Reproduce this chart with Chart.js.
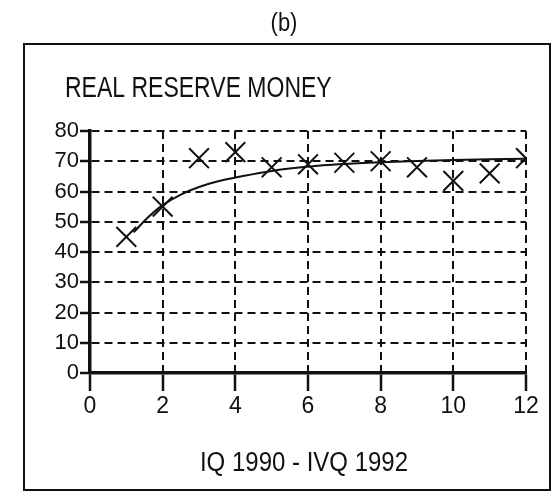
<!DOCTYPE html>
<html>
<head>
<meta charset="utf-8">
<script src="https://cdn.jsdelivr.net/npm/chart.js@4.4.1/dist/chart.umd.min.js"></script>
<style>
  html, body { margin: 0; padding: 0; background: #fff; }
  #wrap { width: 554px; height: 500px; }
</style>
</head>
<body>
<div id="wrap"><canvas id="reserveChart" width="554" height="500"></canvas></div>
<script>
// quarters IQ 1990 .. IVQ 1992
const quarters = [1, 2, 3, 4, 5, 6, 7, 8, 9, 10, 11, 12];
const reserveMoney = [45, 55, 71, 73, 68, 69, 69.5, 70, 68, 63.5, 66, 71];
// fitted curve
const fitX = [1.2, 1.6, 2, 2.5, 3, 3.5, 4, 5, 6, 7, 8, 10, 12];
const fitY = [46.5, 51.5, 55.5, 59, 61.5, 63.3, 64.6, 66.8, 68.2, 69.1, 69.7, 70.4, 70.8];
const xTicks = [0, 2, 4, 6, 8, 10, 12];
const yTicks = [0, 10, 20, 30, 40, 50, 60, 70, 80];

// draws a label a bit taller than the font, like the scanned original
function tallText(c, text, x, y, stretch) {
  c.save();
  c.translate(x, y);
  c.scale(1, stretch);
  c.fillText(text, 0, 0);
  c.restore();
}

const frame = {
  id: "frame",
  beforeDraw(chart) {
    const c = chart.ctx;
    c.save();
    c.fillStyle = "#fff";
    c.fillRect(0, 0, chart.width, chart.height);
    c.strokeStyle = "#111";
    c.lineWidth = 2;
    c.strokeRect(24, 44, 526, 446);
    c.fillStyle = "#111";
    c.textBaseline = "middle";
    c.textAlign = "center";
    c.font = "22px 'Liberation Sans', Arial, sans-serif";
    tallText(c, "(b)", 284, 24, 1.15);
    c.textAlign = "left";
    c.font = "23px 'Liberation Sans', Arial, sans-serif";
    tallText(c, "REAL RESERVE MONEY", 65, 89, 1.25);
    c.textAlign = "center";
    c.font = "24px 'Liberation Sans', Arial, sans-serif";
    tallText(c, "IQ 1990 - IVQ 1992", 304, 463, 1.15);
    c.restore();
  },
};

let ctx = document.getElementById("reserveChart").getContext("2d");
new Chart(ctx, {
  type: "scatter",
  data: {
    datasets: [
      {
        label: "Real reserve money",
        data: quarters.map((q, i) => ({ x: q, y: reserveMoney[i] })),
        pointStyle: "crossRot",
        radius: 14,
        hoverRadius: 14,
        borderColor: "#111",
        borderWidth: 2,
        showLine: false,
      },
      {
        label: "Fit",
        data: fitX.map((x, i) => ({ x: x, y: fitY[i] })),
        showLine: true,
        tension: 0.4,
        borderColor: "#111",
        borderWidth: 2,
        pointRadius: 0,
        fill: false,
      },
    ],
  },
  options: {
    responsive: false,
    animation: false,
    events: [],
    layout: { padding: { top: 131, right: 28, left: 0, bottom: 0 } },
    plugins: {
      legend: { display: false },
      tooltip: { enabled: false },
    },
    scales: {
      x: {
        type: "linear",
        min: 0,
        max: 12,
        afterBuildTicks: (scale) => {
          scale.ticks = xTicks.map((v) => ({ value: v }));
        },
        afterFit: (scale) => {
          scale.height = 127;
        },
        ticks: {
          color: "#111",
          font: { family: "'Liberation Sans', Arial, sans-serif", size: 23 },
          padding: 2,
          maxRotation: 0,
        },
        grid: {
          color: "#111",
          lineWidth: 2,
          tickLength: 18,
          tickColor: "#111",
          tickWidth: 2.5,
          tickBorderDash: [],
        },
        border: { display: true, color: "#111", width: 3.5, dash: [8, 5] },
      },
      y: {
        min: 0,
        max: 80,
        afterBuildTicks: (scale) => {
          scale.ticks = yTicks.map((v) => ({ value: v }));
        },
        afterFit: (scale) => {
          scale.width = 90;
        },
        ticks: {
          color: "#111",
          font: { family: "'Liberation Sans', Arial, sans-serif", size: 22 },
          padding: 1,
        },
        grid: {
          color: "#111",
          lineWidth: 2,
          tickLength: 10,
          tickColor: "#111",
          tickWidth: 2.5,
          tickBorderDash: [],
        },
        border: { display: true, color: "#111", width: 3.5, dash: [8, 5] },
      },
    },
  },
  plugins: [frame],
});
</script>
</body>
</html>
